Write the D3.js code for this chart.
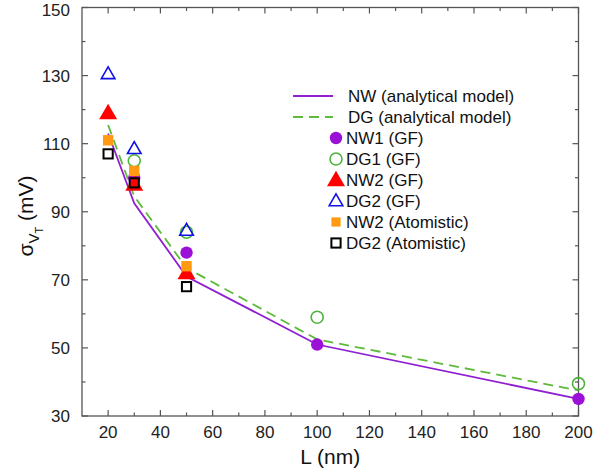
<!DOCTYPE html>
<html>
<head>
<meta charset="utf-8">
<script src="https://cdn.jsdelivr.net/npm/d3@7"></script>
<style>
  html, body { margin: 0; padding: 0; background: #fff; }
  svg { display: block; font-family: "Liberation Sans", Arial, sans-serif; }
</style>
</head>
<body>
<svg id="chart" width="593" height="472"></svg>
<script>
// Threshold-voltage variability vs gate length
const modelL = [20, 30, 50, 100, 200];
const nwModel = [113, 92.5, 71, 51, 35];
const dgModel = [115.5, 94.5, 73.5, 52.5, 37.5];

const nw1L = [30, 50, 100, 200];
const nw1GF = [100, 78, 51, 35];
const dg1L = [30, 50, 100, 200];
const dg1GF = [105, 84, 59, 39.5];

const devL = [20, 30, 50];
const nw2GF = [119, 98, 72];
const dg2GF = [130.5, 108.5, 84.5];
const nw2Atom = [111, 102, 74];
const dg2Atom = [107, 98.5, 68];

const xMajor = [20, 40, 60, 80, 100, 120, 140, 160, 180, 200];
const xMinor = [30, 50, 70, 90, 110, 130, 150, 170, 190];
const yMajor = [30, 50, 70, 90, 110, 130, 150];
const yMinor = [40, 60, 80, 100, 120, 140];

const svg = d3.select("#chart");
const pl = 82, pr = 578.5, pt = 7.5, pb = 416;
const x = d3.scaleLinear().domain([10, 200]).range([pl, pr]);
const y = d3.scaleLinear().domain([30, 150]).range([pb, pt]);

const axisColor = "#555";
const fs = 17;

// frame
svg.append("rect")
  .attr("x", pl).attr("y", pt)
  .attr("width", pr - pl).attr("height", pb - pt)
  .attr("fill", "none").attr("stroke", axisColor).attr("stroke-width", 1.3);

// ticks (all pointing inward)
function xticks(vals, len) {
  vals.forEach(v => {
    svg.append("line").attr("x1", x(v)).attr("x2", x(v))
      .attr("y1", pb).attr("y2", pb - len)
      .attr("stroke", axisColor).attr("stroke-width", 1.2);
    svg.append("line").attr("x1", x(v)).attr("x2", x(v))
      .attr("y1", pt).attr("y2", pt + len)
      .attr("stroke", axisColor).attr("stroke-width", 1.2);
  });
}
function yticks(vals, len) {
  vals.forEach(v => {
    svg.append("line").attr("y1", y(v)).attr("y2", y(v))
      .attr("x1", pl).attr("x2", pl + len)
      .attr("stroke", axisColor).attr("stroke-width", 1.2);
    svg.append("line").attr("y1", y(v)).attr("y2", y(v))
      .attr("x1", pr).attr("x2", pr - len)
      .attr("stroke", axisColor).attr("stroke-width", 1.2);
  });
}
xticks(xMajor, 6); xticks(xMinor, 3.5);
yticks(yMajor, 6); yticks(yMinor, 3.5);

// tick labels
svg.append("g").selectAll("text").data(xMajor).join("text")
  .attr("x", d => x(d)).attr("y", 438)
  .attr("text-anchor", "middle").attr("font-size", fs).attr("fill", "#222")
  .text(d => d);
svg.append("g").selectAll("text").data(yMajor).join("text")
  .attr("x", 70).attr("y", d => Math.max(y(d) + 6, 15.5))
  .attr("text-anchor", "end").attr("font-size", fs).attr("fill", "#222")
  .text(d => d);

// axis titles
svg.append("text").attr("x", (pl + pr) / 2).attr("y", 464)
  .attr("text-anchor", "middle").attr("font-size", 21).attr("fill", "#111")
  .text("L (nm)");
const yt = svg.append("text")
  .attr("transform", "translate(33,216) rotate(-90)")
  .attr("text-anchor", "middle").attr("font-size", 21).attr("fill", "#111");
yt.append("tspan").text("σ");
yt.append("tspan").attr("font-size", 15).attr("dy", 6).text("V");
yt.append("tspan").attr("font-size", 11).attr("dy", 4).text("T");
yt.append("tspan").attr("dy", -10).text(" (mV)");

// model lines
const line = d3.line().x(d => x(d[0])).y(d => y(d[1]));
svg.append("path").datum(d3.zip(modelL, dgModel))
  .attr("d", line).attr("fill", "none")
  .attr("stroke", "#5dba3b").attr("stroke-width", 1.8)
  .attr("stroke-dasharray", "10,6");
svg.append("path").datum(d3.zip(modelL, nwModel))
  .attr("d", line).attr("fill", "none")
  .attr("stroke", "#8f1fd1").attr("stroke-width", 1.8);

// marker styles
const styles = {
  nw1: { shape: "circle", fill: "#9a10d6", stroke: "none", size: 6.2, sw: 0 },
  dg1: { shape: "circle", fill: "none", stroke: "#4cb53a", size: 6, sw: 1.6 },
  nw2: { shape: "tri", fill: "#ff0000", stroke: "none", size: 9, sw: 0 },
  dg2: { shape: "tri", fill: "none", stroke: "#1010e8", size: 6.8, sw: 1.6 },
  nw2a: { shape: "square", fill: "#ff9a12", stroke: "none", size: 5.2, sw: 0 },
  dg2a: { shape: "square", fill: "none", stroke: "#000", size: 4.6, sw: 2 }
};

function marker(g, st, cx, cy) {
  if (st.shape === "circle") {
    g.append("circle").attr("cx", cx).attr("cy", cy).attr("r", st.size)
      .attr("fill", st.fill).attr("stroke", st.stroke).attr("stroke-width", st.sw);
  } else if (st.shape === "square") {
    g.append("rect").attr("x", cx - st.size).attr("y", cy - st.size)
      .attr("width", 2 * st.size).attr("height", 2 * st.size)
      .attr("fill", st.fill).attr("stroke", st.stroke).attr("stroke-width", st.sw);
  } else {
    const s = st.size;
    const h = s * 1.73;
    const p = [[cx, cy - h * 0.6], [cx + s, cy + h * 0.4], [cx - s, cy + h * 0.4]];
    g.append("polygon").attr("points", p.map(q => q.join(",")).join(" "))
      .attr("fill", st.fill).attr("stroke", st.stroke).attr("stroke-width", st.sw)
      .attr("stroke-linejoin", "miter");
  }
}

const series = [
  { key: "nw1", L: nw1L, v: nw1GF, label: "NW1 (GF)" },
  { key: "dg1", L: dg1L, v: dg1GF, label: "DG1 (GF)" },
  { key: "nw2", L: devL, v: nw2GF, label: "NW2 (GF)" },
  { key: "dg2", L: devL, v: dg2GF, label: "DG2 (GF)" },
  { key: "nw2a", L: devL, v: nw2Atom, label: "NW2 (Atomistic)" },
  { key: "dg2a", L: devL, v: dg2Atom, label: "DG2 (Atomistic)" }
];

const marks = svg.append("g");
series.forEach(s => {
  s.L.forEach((l, i) => marker(marks, styles[s.key], x(l), y(s.v[i])));
});

// legend
const lg = svg.append("g");
const rowY = i => 96 + i * 21;
lg.append("line").attr("x1", 293).attr("x2", 333).attr("y1", rowY(0)).attr("y2", rowY(0))
  .attr("stroke", "#8f1fd1").attr("stroke-width", 1.8);
lg.append("line").attr("x1", 293).attr("x2", 333).attr("y1", rowY(1)).attr("y2", rowY(1))
  .attr("stroke", "#5dba3b").attr("stroke-width", 1.8).attr("stroke-dasharray", "10,6");
lg.append("text").attr("x", 348).attr("y", rowY(0)).attr("dy", "0.35em")
  .attr("font-size", fs).attr("fill", "#111").text("NW (analytical model)");
lg.append("text").attr("x", 348).attr("y", rowY(1)).attr("dy", "0.35em")
  .attr("font-size", fs).attr("fill", "#111").text("DG (analytical model)");
series.forEach((s, i) => {
  const yy = rowY(i + 2);
  const st = Object.assign({}, styles[s.key]);
  if (s.key === "nw2a") st.size = 4.6;
  marker(lg, st, 336, yy);
  lg.append("text").attr("x", 346).attr("y", yy).attr("dy", "0.35em")
    .attr("font-size", fs).attr("fill", "#111").text(s.label);
});
</script>
</body>
</html>
